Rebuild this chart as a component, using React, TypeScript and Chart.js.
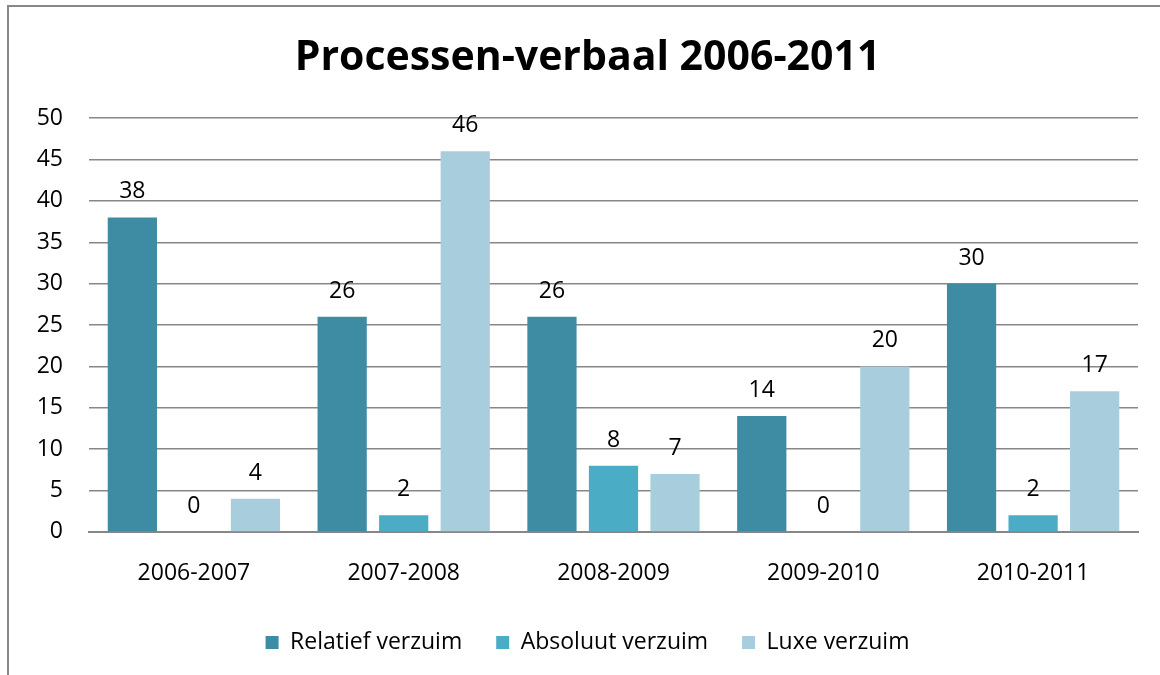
import React, { useEffect, useRef } from "react";
import { Chart, registerables } from "chart.js";

Chart.register(...registerables);

const categories = ["2006-2007", "2007-2008", "2008-2009", "2009-2010", "2010-2011"];
const relatief = [38, 26, 26, 14, 30];
const absoluut = [0, 2, 8, 0, 2];
const luxe = [4, 46, 7, 20, 17];
const seriesNames = ["Relatief verzuim", "Absoluut verzuim", "Luxe verzuim"];
const seriesColors = ["#3E8BA4", "#4BACC6", "#A8CEDD"];
const titleText = "Processen-verbaal 2006-2011";

const FONT = "'Open Sans', sans-serif";

const valueLabels = {
  id: "valueLabels",
  afterDatasetsDraw(chart: any) {
    const ctx = chart.ctx;
    ctx.save();
    ctx.font = `23px ${FONT}`;
    ctx.fillStyle = "#000";
    ctx.textAlign = "center";
    ctx.textBaseline = "alphabetic";
    chart.data.datasets.forEach((ds: any, i: number) => {
      const meta = chart.getDatasetMeta(i);
      meta.data.forEach((el: any, j: number) => {
        ctx.fillText(String(ds.data[j]), el.x, el.y - 19);
      });
    });
    ctx.restore();
  },
};

export default function App() {
  const ref = useRef<HTMLCanvasElement>(null);
  useEffect(() => {
    if (!ref.current) return;
    const data = [relatief, absoluut, luxe];
    const chart = new Chart(ref.current, {
      type: "bar",
      data: {
        labels: categories,
        datasets: seriesNames.map((name, i) => ({
          label: name,
          data: data[i],
          backgroundColor: seriesColors[i],
          borderWidth: 0,
          categoryPercentage: 0.88,
          barPercentage: 0.8,
        })),
      },
      options: {
        responsive: false,
        animation: false,
        layout: { padding: { left: 37, right: 22, top: 0, bottom: 11 } },
        plugins: {
          title: {
            display: true,
            text: titleText,
            color: "#000",
            font: { family: FONT, size: 41, weight: "bold" },
            padding: { top: 34, bottom: 35 },
          },
          legend: {
            position: "bottom",
            labels: {
              color: "#000",
              font: { family: FONT, size: 23 },
              boxWidth: 13,
              boxHeight: 13,
              padding: 34,
            },
          },
          tooltip: { enabled: false },
        },
        scales: {
          x: {
            grid: { display: false, drawTicks: true, tickLength: 18.5 },
            border: { display: true, color: "#878787", width: 2 },
            ticks: { color: "#000", font: { family: FONT, size: 23 }, padding: 9.5 },
          },
          y: {
            min: 0,
            max: 50,
            ticks: { stepSize: 5, color: "#000", font: { family: FONT, size: 23 }, padding: 26 },
            grid: { color: "#878787", lineWidth: 1.5, drawTicks: false },
            border: { display: false },
            afterFit: (scale: any) => {
              scale.width = 52;
            },
          },
        },
      },
      plugins: [valueLabels],
    });
    return () => chart.destroy();
  }, []);
  return (
    <div style={{ position: "fixed", left: 0, top: 0, width: 1160, height: 675, overflow: "hidden", background: "#fff" }}>
      <div
        style={{
          position: "absolute",
          left: 7,
          top: 5,
          width: 1200,
          height: 720,
          border: "2px solid #878787",
          boxSizing: "border-box",
        }}
      />
      <canvas ref={ref} width={1160} height={675} style={{ position: "absolute", left: 0, top: 0 }} />
    </div>
  );
}
